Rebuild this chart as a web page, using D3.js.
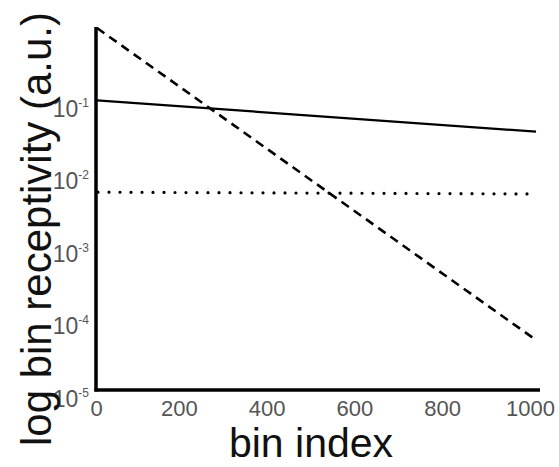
<!DOCTYPE html>
<html>
<head>
<meta charset="utf-8">
<script src="https://cdn.jsdelivr.net/npm/d3@7"></script>
<style>
  html, body { margin: 0; padding: 0; background: #fff; }
  svg { display: block; }
  text { font-family: "Liberation Sans", Arial, sans-serif; }
</style>
</head>
<body>
<svg id="chart" width="559" height="467"></svg>
<script>
// Bin positions at which each receptivity curve is sampled
const bins = [0, 1000];
// Receptivity per bin (arbitrary units), one array per curve
const solidValues  = [0.1, 0.037];
const dashedValues = [1.0, 0.000049];
const dottedValues = [0.0054, 0.0051];
// Axis ticks
const xTicks = [0, 200, 400, 600, 800, 1000];
const yTicks = [1e-5, 1e-4, 1e-3, 1e-2, 1e-1];
const yTickExponents = ["-5", "-4", "-3", "-2", "-1"];

const svg = d3.select("#chart");

const x = d3.scaleLinear().domain([0, 1000]).range([97, 536]);
const y = d3.scaleLog().domain([1e-5, 1]).range([390, 28]);

// Axis lines
svg.append("line")
  .attr("x1", x(0) - 1).attr("x2", x(0) - 1)
  .attr("y1", y(1) - 1).attr("y2", y(1e-5) + 1.5)
  .attr("stroke", "#000").attr("stroke-width", 3.5);
svg.append("line")
  .attr("x1", x(0) - 2.5).attr("x2", 540)
  .attr("y1", y(1e-5)).attr("y2", y(1e-5))
  .attr("stroke", "#000").attr("stroke-width", 3.5);

// X tick labels
const xAxis = d3.axisBottom(x).tickValues(xTicks).tickSize(0).tickPadding(0)
  .tickFormat(d3.format("d"));
const gx = svg.append("g").attr("transform", `translate(0,${y(1e-5)})`).call(xAxis);
gx.select(".domain").remove();
gx.selectAll("text")
  .attr("dy", null)
  .attr("y", 26)
  .attr("dx", d => d === 0 ? -1 : -6)
  .attr("font-size", 22)
  .attr("font-family", "Liberation Sans, Arial, sans-serif")
  .attr("fill", "#555");

// Y tick labels: 10 with superscript exponent
const yAxis = d3.axisLeft(y).tickValues(yTicks).tickSize(0).tickPadding(0).tickFormat(() => "");
const gy = svg.append("g").attr("transform", `translate(${x(0)},0)`).call(yAxis);
gy.select(".domain").remove();
gy.selectAll(".tick text").each(function(d, i) {
  const t = d3.select(this)
    .attr("x", -8)
    .attr("dy", null)
    .attr("y", 16)
    .attr("text-anchor", "end")
    .attr("font-size", 23)
    .attr("font-family", "Liberation Sans, Arial, sans-serif")
    .attr("fill", "#555");
  t.append("tspan").text("10");
  t.append("tspan").attr("dy", -10).attr("font-size", 12).text(yTickExponents[i]);
});

// Curves
const line = d3.line().x((d, i) => x(bins[i])).y(d => y(d));

svg.append("path").datum(solidValues)
  .attr("d", line).attr("fill", "none")
  .attr("stroke", "#000").attr("stroke-width", 2.2);

svg.append("path").datum(dashedValues)
  .attr("d", line).attr("fill", "none")
  .attr("stroke", "#000").attr("stroke-width", 2.6)
  .attr("stroke-dasharray", "9,6");

svg.append("path").datum(dottedValues)
  .attr("d", line).attr("fill", "none")
  .attr("stroke", "#000").attr("stroke-width", 3.2)
  .attr("stroke-linecap", "round")
  .attr("stroke-dasharray", "0,11")
  .attr("stroke-dashoffset", -12);

// Axis titles
svg.append("text")
  .attr("x", 311).attr("y", 457)
  .attr("text-anchor", "middle")
  .attr("font-size", 41)
  .attr("fill", "#111")
  .text("bin index");

svg.append("text")
  .attr("transform", "translate(51,229) rotate(-90)")
  .attr("text-anchor", "middle")
  .attr("font-size", 42)
  .attr("textLength", 434)
  .attr("lengthAdjust", "spacingAndGlyphs")
  .attr("fill", "#111")
  .text("log bin receptivity (a.u.)");
</script>
</body>
</html>
